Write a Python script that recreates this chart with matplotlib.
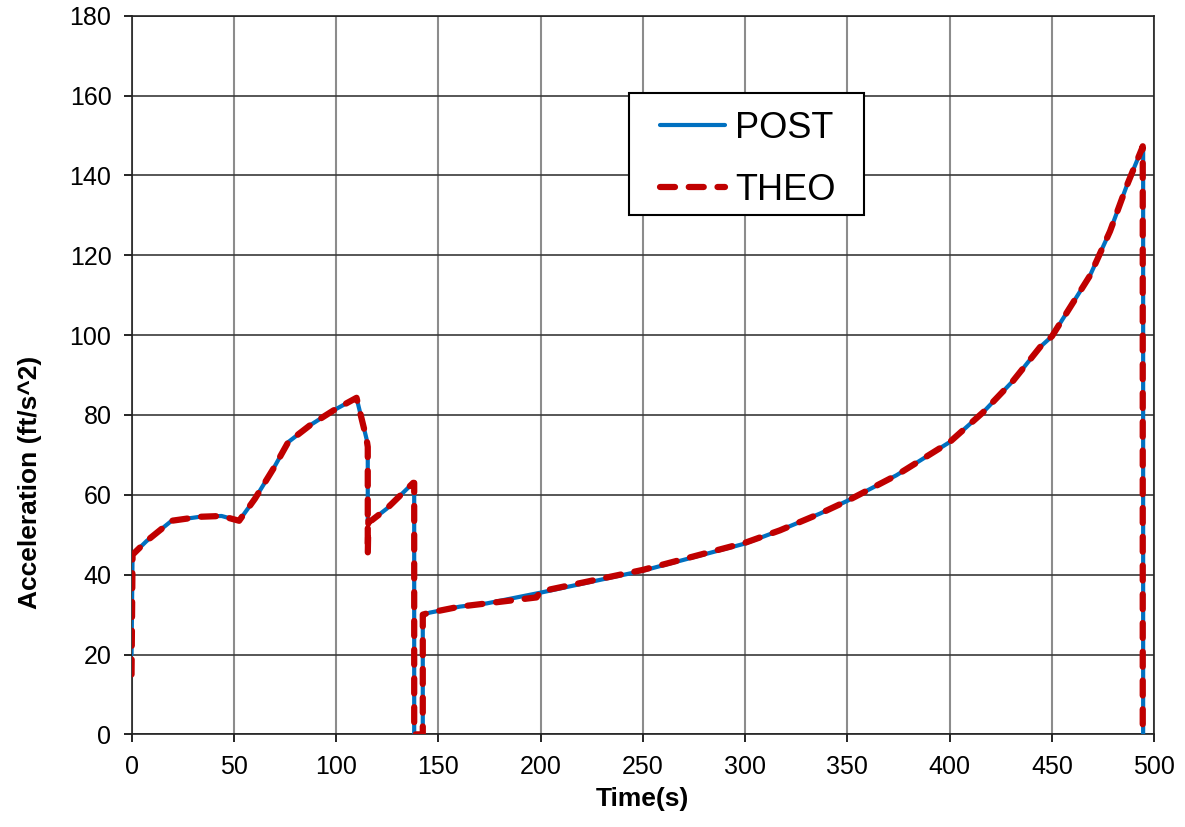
import numpy as np
import matplotlib.pyplot as plt
from matplotlib.patches import Rectangle

plt.rcParams['font.family'] = ['Liberation Sans', 'DejaVu Sans']

# POST trajectory (time s, acceleration ft/s^2)
t_post = [0, 0.5, 7.3, 19.6, 33.4, 44, 52.6, 60.3, 69.3, 76.6, 87.2, 98.6, 110,
          114.9, 115.5, 115.5, 117.4, 124.7, 137.7, 138.2, 138.2, 142.4, 142.4,
          145.9, 160.5, 173.6, 200, 250, 300, 317, 336.6, 350, 374, 400, 416.4,
          431.1, 444.2, 450, 468.6, 478.4, 486.5, 494, 494.6, 494.6]
a_post = [20, 45, 48.4, 53.5, 54.5, 54.7, 53.5, 59, 66.5, 73.2, 77.4, 81.1, 84.3,
          74, 72, 53.5, 53.6, 56.5, 63, 63, 0, 0, 30,
          30.5, 32, 32.8, 35.5, 41, 47.8, 51.1, 55.3, 58.5, 64.9, 73.2, 80.7,
          88.6, 97, 99.7, 114.9, 126, 137.3, 146.7, 147, 0]

# THEO trajectory
t_theo = [0, 0.5, 7.3, 19.6, 33.4, 44, 52.6, 60.3, 69.3, 76.6, 87.2, 98.6, 110,
          114.9, 115.5, 115.5, 115.8, 117.4, 124.7, 137.7, 138.2, 138.2, 142.4, 142.4,
          145.9, 160.5, 173.6, 198, 200, 250, 300, 317, 336.6, 350, 374, 400, 416.4,
          431.1, 444.2, 450, 468.6, 478.4, 486.5, 494, 494.4, 494.4]
a_theo = [15, 45, 48.4, 53.5, 54.5, 54.7, 53.5, 59, 66.5, 73.2, 77.4, 81.1, 84.3,
          74, 72, 45, 53.5, 53.6, 56.5, 63, 63, 0, 0, 30,
          30.5, 32, 32.8, 34.3, 35.8, 41.2, 48, 51.1, 55.3, 58.5, 64.9, 73.2, 80.7,
          88.6, 97, 99.7, 114.9, 126, 137.3, 146.7, 147.3, 0]

x_ticks = np.arange(0, 501, 50)
y_ticks = np.arange(0, 181, 20)

fig = plt.figure(figsize=(11.85, 8.27), dpi=100)
ax = fig.add_axes([0.111, 0.112, 0.863, 0.869])

ax.plot(t_post, a_post, color='#0070C0', lw=3, label='POST', solid_capstyle='round',
        solid_joinstyle='round', zorder=3)
ax.plot(t_theo, a_theo, color='#C00000', lw=4.5, label='THEO', dashes=(2.4, 2.2),
        dash_capstyle='round', dash_joinstyle='round', zorder=4)

ax.set_xlim(0, 500)
ax.set_ylim(0, 180)
ax.set_xticks(x_ticks)
ax.set_yticks(y_ticks)
ax.tick_params(labelsize=18, direction='out', length=5.5, width=1.2, pad=9)

ax.xaxis.grid(True, color='#8c8c8c', lw=1.5)
ax.yaxis.grid(True, color='#3a3a3a', lw=1.2)
ax.set_axisbelow(True)
for s in ax.spines.values():
    s.set_linewidth(1.2)
    s.set_color('#222222')

ax.set_xlabel('Time(s)', fontsize=19, fontweight='bold', labelpad=6)
ax.set_ylabel('Acceleration (ft/s^2)', fontsize=19, fontweight='bold', labelpad=20, y=0.35)

# legend frame drawn separately (wider side padding than mpl gives)
ax.add_patch(Rectangle((0.4864, 0.723), 0.2299, 0.1698, transform=ax.transAxes,
                       facecolor='white', edgecolor='black', lw=1.5, zorder=4.5))
leg = ax.legend(loc='upper left', bbox_to_anchor=(0.5168, 0.8678), fontsize=26,
                frameon=False, handlelength=1.8, handletextpad=0.28,
                borderpad=0, labelspacing=0.75, borderaxespad=0)
leg.set_zorder(5)

plt.savefig('out.png', dpi=100)
